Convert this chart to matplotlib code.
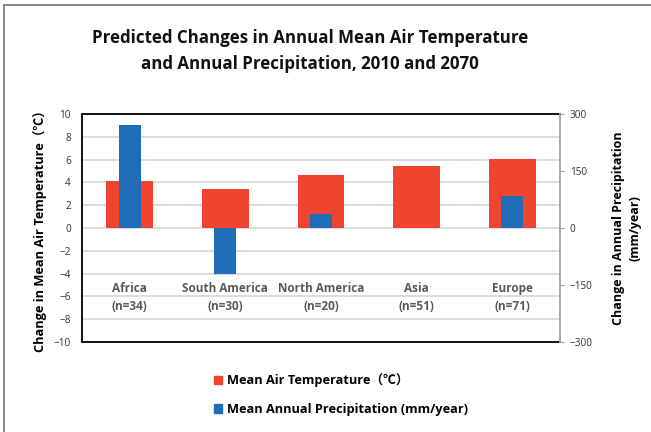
import matplotlib
matplotlib.use("Agg")
import matplotlib.pyplot as plt
import matplotlib.patches as mpatches
from matplotlib.lines import Line2D
import numpy as np

# data
regions = ["Africa", "South America", "North America", "Asia", "Europe"]
sample_n = [34, 30, 20, 51, 71]
temp_change = [4.15, 3.45, 4.65, 5.45, 6.05]        # deg C
precip_change = [271, -120, 36, 0, 83]              # mm/year

temp_ticks = list(range(-10, 11, 2))
precip_ticks = [-300, -150, 0, 150, 300]

RED = "#EF452F"
BLUE = "#1F6DB6"
FONT = ["Open Sans", "Noto Sans CJK SC", "DejaVu Sans"]
plt.rcParams["font.family"] = FONT

fig = plt.figure(figsize=(6.51, 4.32), dpi=100)
ax = fig.add_axes([82 / 651, 1 - 342 / 432, 478 / 651, 228 / 432])
ax2 = ax.twinx()

x = np.arange(len(regions))
ax.bar(x, temp_change, width=0.49, color=RED, zorder=2)
ax2.bar(x, precip_change, width=0.23, color=BLUE, zorder=3)

ax.set_xlim(-0.5, len(regions) - 0.5)
ax.set_ylim(-10, 10)
ax2.set_ylim(-300, 300)
ax.set_yticks(temp_ticks)
ax2.set_yticks(precip_ticks)
ax.set_xticks([])

ax.grid(axis="y", color="#d9d9d9", linewidth=1.3, zorder=0)
ax.set_axisbelow(True)
ax.tick_params(axis="y", length=0, labelsize=7.2, labelcolor="#333333", pad=8)
ax2.tick_params(axis="y", length=3, color="#a0a0a0", labelsize=7.2, labelcolor="#333333", pad=4)

for side in ["top", "bottom", "left"]:
    ax.spines[side].set_color("black")
    ax.spines[side].set_linewidth(1.3)
    ax2.spines[side].set_visible(False)
ax.spines["right"].set_visible(False)
ax2.spines["right"].set_color("#a0a0a0")
ax2.spines["right"].set_linewidth(1.3)

# category labels sit inside the plot area
for xi, name, n in zip(x, regions, sample_n):
    ax.text(xi, -6.1, f"{name}\n(n={n})", ha="center", va="center",
            fontsize=8.5, fontweight="bold", color="#595959", linespacing=1.55, zorder=4)

ax.set_ylabel("Change in Mean Air Temperature（℃）", fontsize=9.2, fontweight="bold", labelpad=5)
ax2.set_ylabel("Change in Annual Precipitation\n(mm/year)", fontsize=9, fontweight="bold",
               labelpad=14, linespacing=1.3)

fig.text(310 / 651, 1 - 51 / 432,
         "Predicted Changes in Annual Mean Air Temperature\nand Annual Precipitation, 2010 and 2070",
         ha="center", va="center", fontsize=12.2, fontweight="bold", color="#111111", linespacing=1.55)

handles = [mpatches.Patch(color=RED, label="Mean Air Temperature（℃）"),
           mpatches.Patch(color=BLUE, label="Mean Annual Precipitation (mm/year)")]
fig.legend(handles=handles, loc="upper left", bbox_to_anchor=(202 / 651, 1 - 362 / 432),
           frameon=False, handlelength=0.7, handleheight=0.7, handletextpad=0.35,
           labelspacing=1.2, prop={"family": FONT, "weight": "bold", "size": 9.2})

# outer chart frame (only top and left edges visible in the crop)
fig.add_artist(Line2D([4 / 651, 1], [1 - 5 / 432, 1 - 5 / 432], color="#808080", linewidth=1.3))
fig.add_artist(Line2D([4 / 651, 4 / 651], [0, 1 - 5 / 432], color="#808080", linewidth=1.3))

fig.savefig("out.png", dpi=100)
